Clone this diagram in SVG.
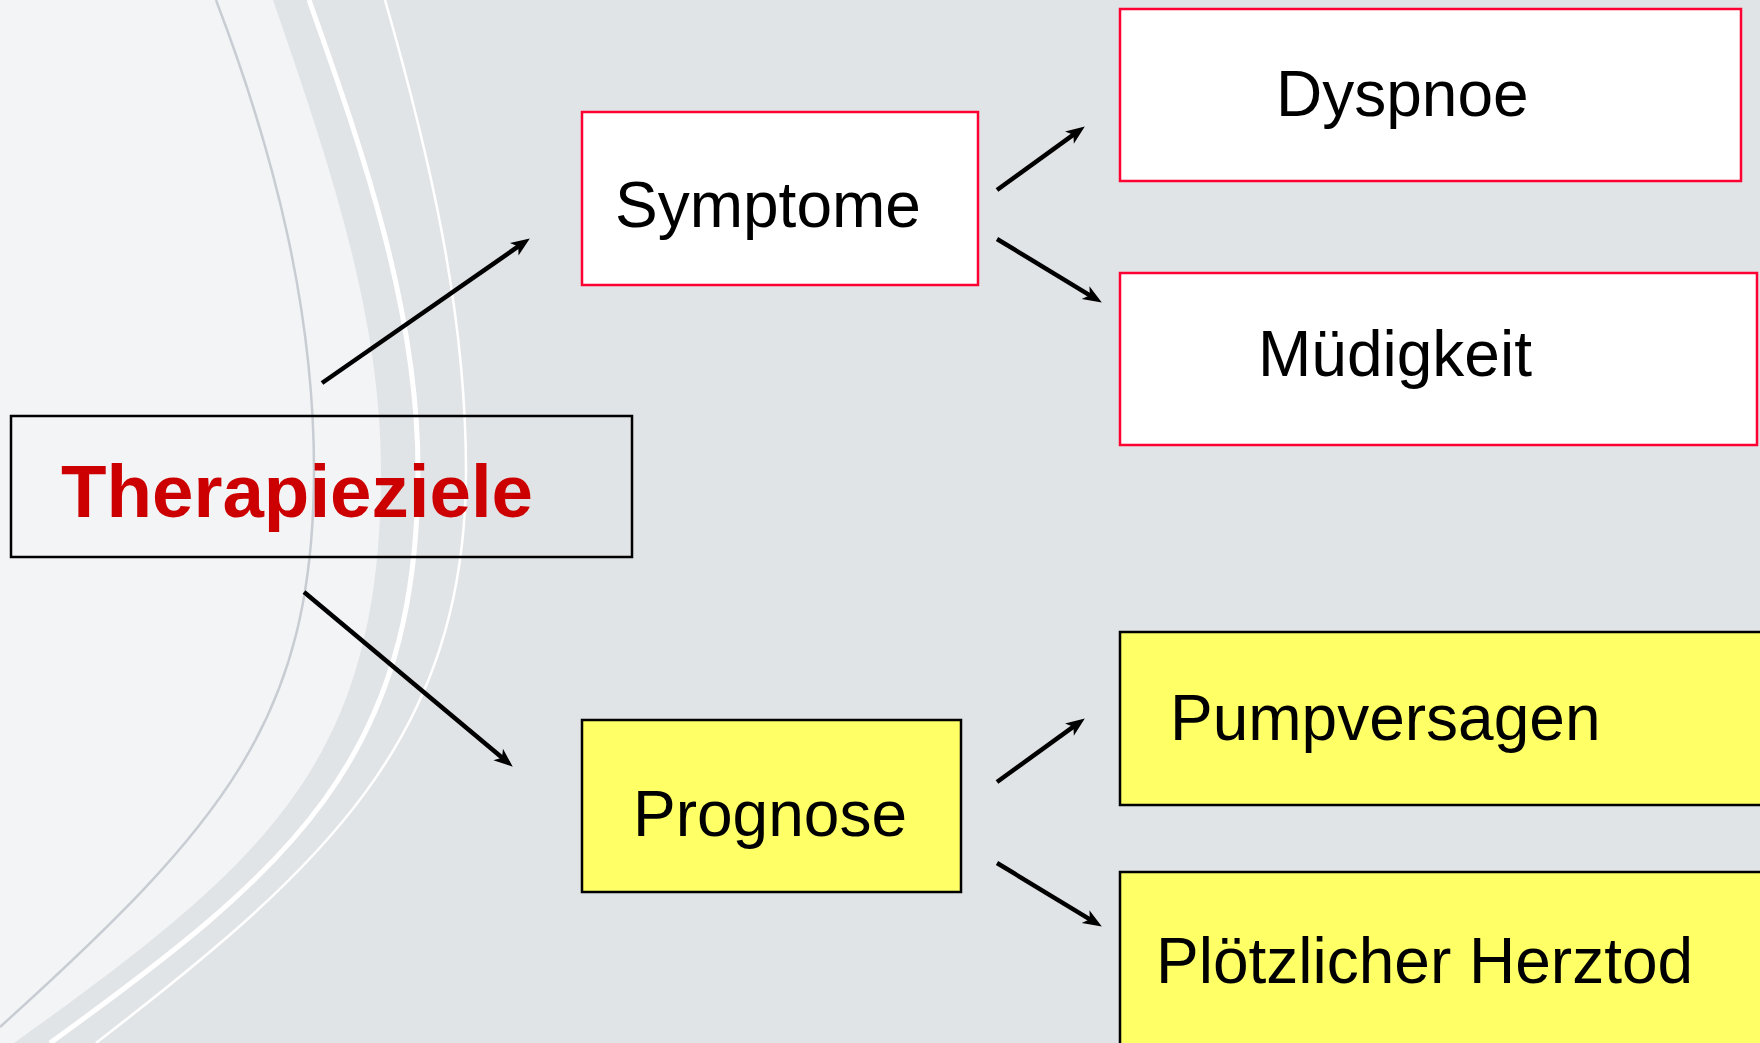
<svg xmlns="http://www.w3.org/2000/svg" width="1760" height="1043" viewBox="0 0 1760 1043">
  <style>
    .lbl { font-family: "Liberation Sans", Arial, sans-serif; font-size: 64px; fill: #000000; }
    .title { font-family: "Liberation Sans", Arial, sans-serif; font-size: 74.5px; font-weight: bold; fill: #CC0000; }
    .red { fill: #FFFFFF; stroke: #FF0033; stroke-width: 2.5; }
    .yel { fill: #FFFF66; stroke: #000000; stroke-width: 2.5; }
    .plain { fill: none; stroke: #000000; stroke-width: 2.5; }
    .conn { stroke: #000000; stroke-width: 4.5; fill: none; marker-end: url(#ah); }
  </style>
  <defs>
    <marker id="ah" markerUnits="userSpaceOnUse" markerWidth="22" markerHeight="18" refX="8" refY="7.5" orient="auto" overflow="visible">
      <path d="M0,0 L19,7.5 L0,15 L5,7.5 Z" fill="#000000"/>
    </marker>
  </defs>

  <g id="background">
    <rect x="0" y="0" width="1760" height="1043" fill="#E1E4E7"/>
    <path d="M0,0 L273,0 C327,157 381,313 381,470 C381,760 270,860 14,1043 L0,1043 Z" fill="#F3F4F6"/>
    <path d="M216,0 C276,157 314,313 314,470 C314,720 222,826 0,1027" fill="none" stroke="#C8CDD3" stroke-width="2.5"/>
    <path d="M309,0 C365,157 418,313 418,470 C418,760 290,870 50,1043" fill="none" stroke="#FFFFFF" stroke-width="5"/>
    <path d="M385,0 C430,157 466,313 466,470 C466,740 320,870 96,1043" fill="none" stroke="#FFFFFF" stroke-width="2.5"/>
  </g>

  <g id="node-therapieziele">
    <rect class="plain" x="11" y="416" width="621" height="141"/>
    <text class="title" x="61" y="517">Therapieziele</text>
  </g>
  <g id="node-symptome">
    <rect class="red" x="582" y="112" width="396" height="173"/>
    <text class="lbl" x="615" y="227">Symptome</text>
  </g>
  <g id="node-dyspnoe">
    <rect class="red" x="1120" y="9" width="621" height="172"/>
    <text class="lbl" x="1276" y="116">Dyspnoe</text>
  </g>
  <g id="node-muedigkeit">
    <rect class="red" x="1120" y="273" width="637" height="172"/>
    <text class="lbl" x="1258" y="376">Müdigkeit</text>
  </g>
  <g id="node-prognose">
    <rect class="yel" x="582" y="720" width="379" height="172"/>
    <text class="lbl" x="633" y="836">Prognose</text>
  </g>
  <g id="node-pumpversagen">
    <rect class="yel" x="1120" y="632" width="660" height="173"/>
    <text class="lbl" x="1170" y="740">Pumpversagen</text>
  </g>
  <g id="node-herztod">
    <rect class="yel" x="1120" y="872" width="660" height="200"/>
    <text class="lbl" x="1156" y="983">Plötzlicher Herztod</text>
  </g>

  <g id="connectors">
    <line class="conn" x1="322" y1="383" x2="520.8" y2="244.7"/>
    <line class="conn" x1="304" y1="592" x2="504.3" y2="759.6"/>
    <line class="conn" x1="997" y1="190" x2="1075.9" y2="132.9"/>
    <line class="conn" x1="997" y1="239" x2="1092.4" y2="296.8"/>
    <line class="conn" x1="997" y1="782" x2="1075.9" y2="724.9"/>
    <line class="conn" x1="997" y1="863" x2="1092.4" y2="920.8"/>
  </g>
</svg>
